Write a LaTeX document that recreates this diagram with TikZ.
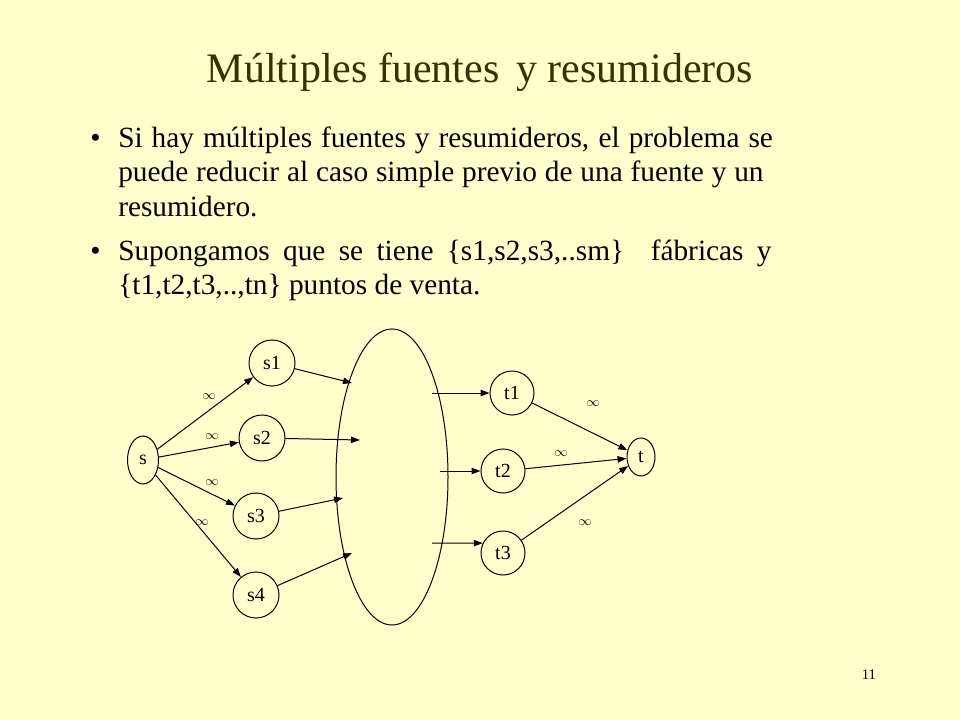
\documentclass[tikz,border=0pt]{standalone}
\usepackage{fontspec}
\setmainfont{Liberation Serif}
\usetikzlibrary{arrows.meta,shapes.geometric}
\definecolor{bgyellow}{HTML}{FFFFCC}
\definecolor{titlecol}{HTML}{333300}
\tikzset{
  bodytext/.style={anchor=base west,inner sep=0pt,font=\fontsize{22pt}{26pt}\selectfont},
  vcircle/.style={draw,circle,minimum size=34.5pt,inner sep=0pt,line width=0.75pt,font=\fontsize{15pt}{17pt}\selectfont},
  vellipse/.style={draw,ellipse,inner sep=0pt,line width=0.75pt,font=\fontsize{15pt}{17pt}\selectfont},
  edge/.style={line width=0.75pt,-{Triangle[length=6.75pt,width=4.8pt]}},
  inflabel/.style={inner sep=0pt,font=\fontsize{10pt}{11pt}\selectfont}
}
\begin{document}
\begin{tikzpicture}[x=0.75pt,y=-0.75pt]
\fill[bgyellow] (0,0) rectangle (960,720);
\useasboundingbox (0,0) rectangle (960,720);
% title
\node[anchor=base,inner sep=0pt,text=titlecol,font=\fontsize{31.5pt}{36pt}\selectfont] (title) at (480,83) {Múltiples fuentes\hspace{0.4em}y resumideros};
% bullets
\node[bodytext] (b1) at (90,148) {•};
\node[bodytext] (l1) at (118,148) {\makebox[491pt][s]{Si hay múltiples fuentes y resumideros, el problema se}};
\node[bodytext] (l2) at (118,182) {\makebox[484pt][s]{puede reducir al caso simple previo de una fuente y un}};
\node[bodytext] (l3) at (118,217) {resumidero.};
\node[bodytext] (b2) at (90,261) {•};
\node[bodytext] (l4) at (118,261) {\makebox[490pt][s]{Supongamos que se tiene \{s1,s2,s3,..sm\}\ \ fábricas y}};
\node[bodytext] (l5) at (118,295) {\{t1,t2,t3,..,tn\} puntos de venta.};
% page number
\node[anchor=base,inner sep=0pt,font=\fontsize{11pt}{12pt}\selectfont] (pg) at (869,679) {11};
% graph nodes
\node[vellipse,minimum width=23.25pt,minimum height=36pt] (s) at (143,460) {s};
\node[vcircle] (s1) at (272,363) {s1};
\node[vcircle] (s2) at (262,438) {s2};
\node[vcircle] (s3) at (256,516) {s3};
\node[vcircle] (s4) at (256,595) {s4};
\node[draw,ellipse,line width=0.75pt,minimum width=84pt,minimum height=222pt,inner sep=0pt] (pool) at (392,477) {};
\node[vcircle,minimum size=33pt] (t1) at (512,393) {t1};
\node[vcircle,minimum size=33pt] (t2) at (503,471) {t2};
\node[vcircle,minimum size=33pt] (t3) at (503,553) {t3};
\node[vellipse,minimum width=21pt,minimum height=28.5pt] (t) at (641,457) {t};
% coordinates on the pool
\coordinate (e1) at (352,383);
\coordinate (e2) at (360,440);
\coordinate (e3) at (343,498);
\coordinate (e4) at (352,553);
\coordinate (f1) at (432,393);
\coordinate (f2) at (440,471);
\coordinate (f3) at (432,543);
% edges
\draw[edge] (s) -- (s1);
\draw[edge] (s) -- (s2);
\draw[edge] (s) -- (s3);
\draw[edge] (s) -- (s4);
\draw[edge] (s1) -- (e1);
\draw[edge] (s2) -- (e2);
\draw[edge] (s3) -- (e3);
\draw[edge] (s4) -- (e4);
\draw[edge] (f1) -- (t1);
\draw[edge] (f2) -- (t2);
\draw[edge] (f3) -- (t3.154);
\draw[edge] (t1) -- (t);
\draw[edge] (t2) -- (t);
\draw[edge] (t3) -- (t);
% labels
\node[inflabel] (i1) at (209,397) {$\infty$};
\node[inflabel] (i2) at (212,437) {$\infty$};
\node[inflabel] (i3) at (212,483) {$\infty$};
\node[inflabel] (i4) at (202,523) {$\infty$};
\node[inflabel] (i5) at (593,404) {$\infty$};
\node[inflabel] (i6) at (561,454) {$\infty$};
\node[inflabel] (i7) at (585,523) {$\infty$};
\end{tikzpicture}
\end{document}
